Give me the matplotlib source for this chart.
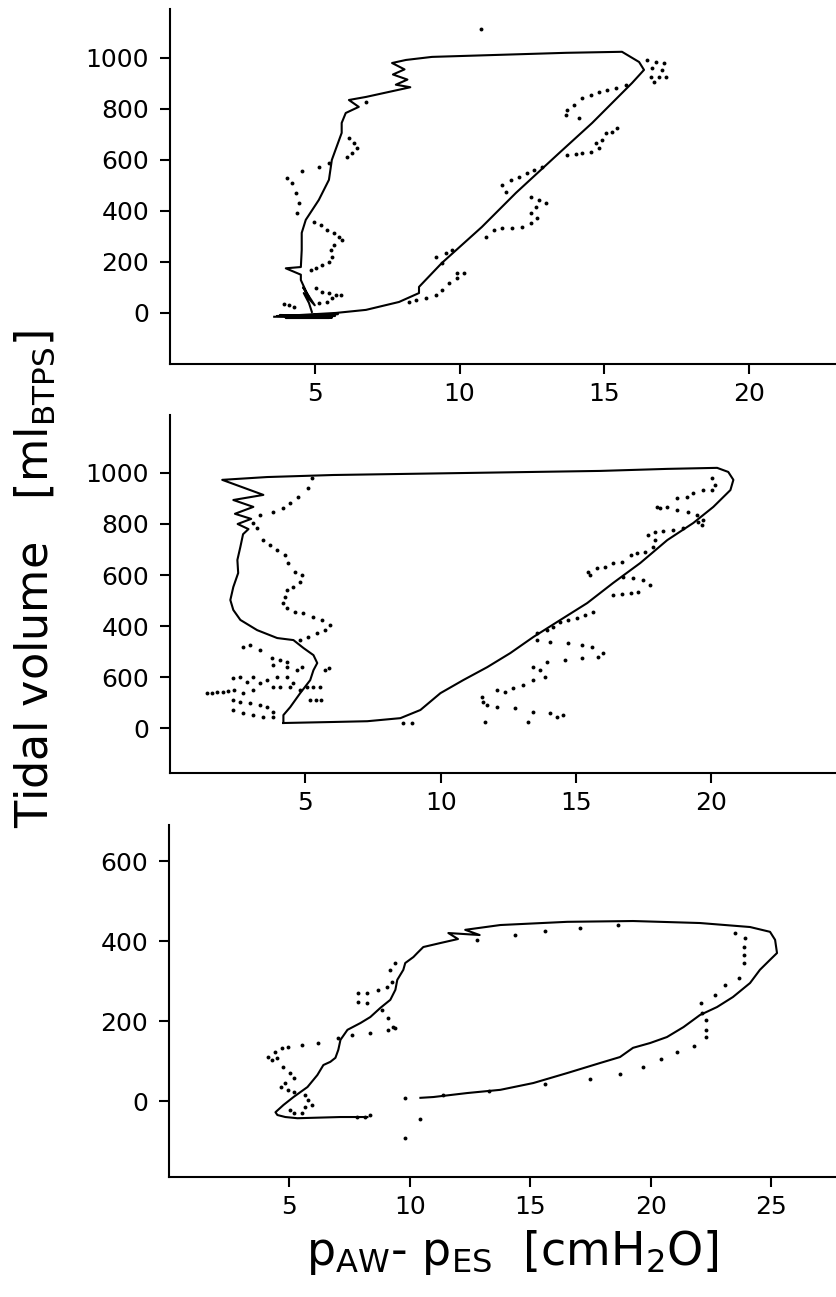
import matplotlib
matplotlib.use('Agg')
import matplotlib.pyplot as plt

# ---------------- panel 1 (top) ----------------
loop1_x = [3.6, 5.7, 3.8, 5.5, 4.0, 5.8, 3.7, 5.6, 4.2, 5.73, 6.77, 7.91, 8.60, 8.60, 9.39, 10.77, 11.95,
           13.44, 14.58, 15.96, 16.37, 16.20, 15.61, 13.68, 11.36, 9.05, 8.15, 7.67, 8.1, 7.7, 8.2, 7.8,
           8.3, 6.77, 6.18, 6.52, 6.07, 5.93, 5.93, 5.59, 5.49, 5.14, 4.69, 4.55, 4.55, 4.52, 4.0, 4.52,
           4.52, 4.8, 4.6, 5.0, 4.62, 4.80, 4.90]
loop1_y = [-15, -12, -8, -20, -20, -5, -12, -18, -10, 0, 12, 43, 78, 102, 196, 337, 471,
           627, 745, 902, 953, 984, 1024, 1020, 1012, 1004, 992, 980, 955, 935, 915, 895,
           885, 847, 835, 808, 784, 745, 706, 600, 522, 443, 365, 314, 247, 180, 175, 150,
           129, 60, 100, 30, 78, 39, 4]

dots1_x = [10.74,
           4.03, 4.21, 4.34, 4.45, 4.38, 4.55, 5.14, 5.49,
           6.18, 6.35, 6.45, 6.28, 6.11, 6.77,
           4.97, 5.21, 5.42, 5.66, 5.83, 5.93,
           5.66, 5.55, 5.59, 5.49, 5.24, 5.04, 4.86,
           5.04, 5.24, 5.49, 5.73, 5.90, 5.59, 5.42, 5.14,
           3.93, 4.10, 4.28,
           16.48, 16.79, 17.07, 16.65, 17.00, 16.61, 16.89, 17.13, 16.72,
           15.75, 15.41, 15.10, 14.82, 14.54, 14.23, 13.95, 13.71, 13.68, 14.13,
           15.44, 15.27, 15.06, 14.92, 14.72, 14.82, 14.54, 14.23, 14.02, 13.71,
           12.85, 12.57, 12.33, 12.05, 11.77, 11.46, 11.60,
           12.47, 12.74, 12.99, 12.64, 12.47, 12.68, 12.47, 12.16, 11.81, 11.46, 11.19, 10.91,
           9.18, 9.53, 9.74, 9.39, 9.91, 10.15, 9.91, 9.63, 9.39, 9.18, 8.84, 8.49, 8.25]
dots1_y = [1114,
           529, 510, 471, 431, 392, 557, 573, 588,
           686, 667, 647, 627, 612, 827,
           357, 345, 325, 314, 298, 286,
           267, 247, 220, 200, 188, 176, 169,
           98, 82, 78, 71, 71, 59, 43, 39,
           35, 31, 24,
           992, 984, 980, 961, 953, 925, 925, 925, 906,
           894, 882, 875, 867, 855, 843, 816, 796, 776, 765,
           725, 710, 706, 678, 667, 647, 631, 627, 624, 620,
           573, 561, 549, 533, 522, 502, 475,
           455, 443, 431, 416, 392, 373, 353, 337, 333, 333, 325, 298,
           220, 235, 247, 196, 157, 157, 137, 118, 90, 71, 59, 51, 43]

# ---------------- panel 2 (middle) ----------------
loop2_x = [4.19, 6.03, 7.29, 8.51, 9.25, 9.99, 10.83, 11.72, 12.57, 13.42, 14.42, 15.41, 16.37, 17.37,
           18.37, 19.33, 20.07, 20.70, 20.81, 20.62, 20.21, 18.37, 15.89, 13.42, 10.98, 8.50, 6.03,
           3.59, 1.93, 3.45, 2.34, 3.08, 2.40, 3.00, 2.50, 2.90, 2.70, 2.60, 2.49, 2.52, 2.34, 2.23,
           2.34, 2.60, 3.22, 3.96, 4.56, 4.93, 5.30, 5.44, 5.30, 5.18, 4.81, 4.44, 4.19, 4.19]
loop2_y = [20, 24, 27, 39, 71, 137, 188, 239, 294, 357, 424, 490, 569, 647,
           737, 804, 867, 933, 973, 1004, 1020, 1016, 1008, 1004, 1000, 996, 992,
           984, 973, 914, 894, 867, 840, 820, 800, 780, 760, 710, 659, 608, 553, 502,
           463, 424, 384, 353, 345, 314, 286, 255, 227, 188, 137, 82, 51, 20]

dots2_x = [5.26, 5.11, 4.74, 4.44, 4.19, 3.82, 3.34, 3.08, 3.22, 3.45, 3.71, 3.96, 4.26, 4.37,
           4.63, 4.89, 4.81, 4.56, 4.33, 4.26, 4.19, 4.33, 4.63, 4.93, 5.30, 5.63, 5.92, 5.74,
           5.44, 5.11, 4.81,
           2.71, 2.97, 3.34, 3.77, 4.07, 4.33, 3.82, 4.33, 4.69, 4.88, 4.33, 3.96, 3.59, 3.34,
           3.08, 2.86, 2.60, 2.34, 3.82, 4.07, 4.44, 4.56, 4.81, 3.08, 2.71, 2.34, 2.60, 2.97,
           3.34, 3.59, 3.82, 2.34, 2.71, 3.08, 3.45, 3.82,
           1.38, 1.55, 1.75, 1.95, 2.15, 2.35,
           5.07, 5.30, 5.55, 5.18, 5.40, 5.59, 5.74, 5.86,
           20.03, 20.14, 20.03, 19.70, 19.33, 19.11, 18.74, 18.37, 18.11, 18.00,
           18.74, 19.15, 19.48, 19.70, 19.66, 19.51,
           18.96, 18.59, 18.22, 17.93, 17.67, 17.93, 17.85,
           17.56, 17.26, 17.01, 16.71, 16.37, 16.08, 15.79, 15.45, 15.52,
           16.75, 17.12, 17.48, 17.74, 17.30, 17.01, 16.71, 16.37,
           15.64, 15.34, 15.05, 14.71, 14.42, 14.16, 13.94,
           13.57, 13.57, 14.05, 14.71, 15.23, 15.60, 16.00, 15.82, 15.23, 14.60,
           13.94, 13.42, 13.68, 13.86, 13.42, 13.05, 12.68, 12.39, 12.09,
           11.54, 11.57, 11.72, 12.09, 12.75, 13.42, 14.05, 14.31, 14.53,
           11.65, 13.24, 8.62, 8.95]
dots2_y = [980, 941, 906, 882, 863, 847, 835, 804, 784, 737, 718, 698, 678, 647,
           612, 600, 573, 553, 541, 514, 490, 471, 455, 451, 435, 424, 404, 384,
           373, 357, 345,
           318, 325, 306, 275, 267, 259, 247, 239, 227, 239, 200, 200, 188, 176,
           200, 180, 200, 196, 161, 161, 161, 176, 149, 149, 137, 110, 102, 98,
           90, 82, 63, 71, 59, 51, 43, 43,
           137, 139, 141, 143, 146, 149,
           161, 161, 161, 110, 112, 110, 227, 235,
           980, 953, 933, 933, 922, 906, 902, 867, 863, 867,
           855, 847, 835, 816, 796, 808,
           784, 776, 773, 769, 757, 737, 710,
           690, 686, 678, 651, 647, 631, 627, 612, 600,
           592, 588, 580, 561, 533, 529, 525, 522,
           455, 443, 431, 424, 416, 396, 384,
           373, 345, 337, 333, 325, 318, 294, 278, 275, 267,
           259, 239, 227, 200, 188, 169, 157, 141, 149,
           122, 102, 90, 82, 78, 63, 59, 43, 51,
           24, 24, 20, 20]
ticklabels2 = ['1000', '800', '600', '400', '600', '0']

# ---------------- panel 3 (bottom) ----------------
loop3_x = [8.24, 7.12, 5.33, 4.83, 4.50, 4.42, 4.75, 5.17, 5.75, 6.16, 6.41, 6.70, 6.91, 7.03, 7.12,
           7.41, 7.95, 8.36, 8.78, 9.19, 9.40, 9.48, 9.73, 9.81, 10.15, 10.31, 10.56, 11.27, 12.0,
           11.6, 12.9, 12.3, 13.76, 16.54, 19.27, 22.05, 24.13, 24.96, 25.17, 25.25, 24.96, 24.54,
           24.13, 23.42, 22.76, 22.05, 21.37, 20.68, 19.98, 19.27, 18.73, 17.90, 16.54, 15.13,
           13.76, 12.39, 10.98, 10.44]
loop3_y = [-40, -40, -43, -40, -35, -28, -10, 10, 35, 65, 90, 98, 108, 128, 153,
           178, 195, 210, 233, 253, 278, 303, 328, 345, 360, 370, 385, 395, 405,
           420, 415, 428, 440, 448, 450, 445, 435, 423, 403, 370, 353, 328,
           295, 260, 235, 215, 185, 160, 145, 133, 110, 95, 70, 45,
           28, 20, 10, 8]

dots3_x = [4.09, 4.29, 4.42, 4.71, 4.96, 5.54, 6.20, 4.50, 4.75, 5.04, 5.17, 4.83, 4.63, 4.92, 5.17,
           5.66, 5.79, 5.95, 5.66, 5.54, 5.17, 5.04, 7.03, 7.61, 8.36, 7.86, 8.24, 7.86, 8.24,
           8.69, 9.07, 9.27, 9.19, 9.40, 8.86, 9.11, 9.32, 9.11, 9.40, 8.36, 8.15, 7.82,
           9.81, 9.81, 10.44,
           12.80, 14.38, 15.62, 17.07, 18.65, 23.51, 23.92, 23.87, 23.87, 23.87, 23.67, 23.09,
           22.68, 22.10, 22.14, 22.30, 22.30, 22.30, 21.81, 21.10, 20.44, 19.69, 18.73, 17.49,
           15.62, 13.30, 11.39]
dots3_y = [110, 103, 123, 133, 135, 140, 145, 108, 85, 70, 58, 45, 35, 28, 23,
           15, 3, -10, -15, -30, -30, -23, 158, 165, 170, 270, 270, 248, 245,
           278, 285, 298, 328, 345, 228, 208, 185, 178, 183, -35, -40, -40,
           8, -93, -45,
           403, 415, 425, 433, 440, 420, 408, 385, 365, 345, 308, 290,
           265, 245, 220, 203, 178, 160, 138, 123, 105, 85, 68, 55,
           43, 25, 15]

panels = [
    dict(lx=loop1_x, ly=loop1_y, dx=dots1_x, dy=dots1_y, xlim=(0, 23), ylim=(-200, 1192),
         xt=[5, 10, 15, 20], yt=[0, 200, 400, 600, 800, 1000], ytl=None,
         box=[0.2033, 0.7194, 0.7967, 0.2737]),
    dict(lx=loop2_x, ly=loop2_y, dx=dots2_x, dy=dots2_y, xlim=(0, 24.6), ylim=(-176, 1227),
         xt=[5, 10, 15, 20], yt=[1000, 800, 600, 400, 200, 0], ytl=ticklabels2,
         box=[0.2033, 0.4040, 0.7967, 0.2760]),
    dict(lx=loop3_x, ly=loop3_y, dx=dots3_x, dy=dots3_y, xlim=(0, 27.7), ylim=(-190, 690),
         xt=[5, 10, 15, 20, 25], yt=[0, 200, 400, 600], ytl=None,
         box=[0.2022, 0.0925, 0.7978, 0.2714]),
]

fig = plt.figure(figsize=(8.36, 12.97), dpi=100)

for p in panels:
    ax = fig.add_axes(p['box'])
    ax.plot(p['lx'], p['ly'], color='black', lw=1.5, solid_joinstyle='round')
    ax.plot(p['dx'], p['dy'], 'o', color='black', ms=2.8, mew=0)
    ax.set_xlim(*p['xlim'])
    ax.set_ylim(*p['ylim'])
    ax.set_xticks(p['xt'])
    ax.set_yticks(p['yt'])
    if p['ytl'] is not None:
        ax.set_yticklabels(p['ytl'])
    for s in ['top', 'right']:
        ax.spines[s].set_visible(False)
    for s in ['left', 'bottom']:
        ax.spines[s].set_linewidth(1.5)
    ax.tick_params(axis='both', direction='out', length=7, width=1.5, labelsize=18)
    ax.tick_params(axis='y', pad=8)
    ax.tick_params(axis='x', pad=6)

fig.text(0.042, 0.5536, r'Tidal volume   [ml$_{\mathregular{BTPS}}$]', rotation=90,
         fontsize=32, ha='center', va='center')
fig.text(0.613, 0.034, r'$\mathregular{p_{AW}}$- $\mathregular{p_{ES}}$  [cmH$_\mathregular{2}$O]',
         fontsize=33, ha='center', va='center')

fig.savefig('out.png', dpi=100)
